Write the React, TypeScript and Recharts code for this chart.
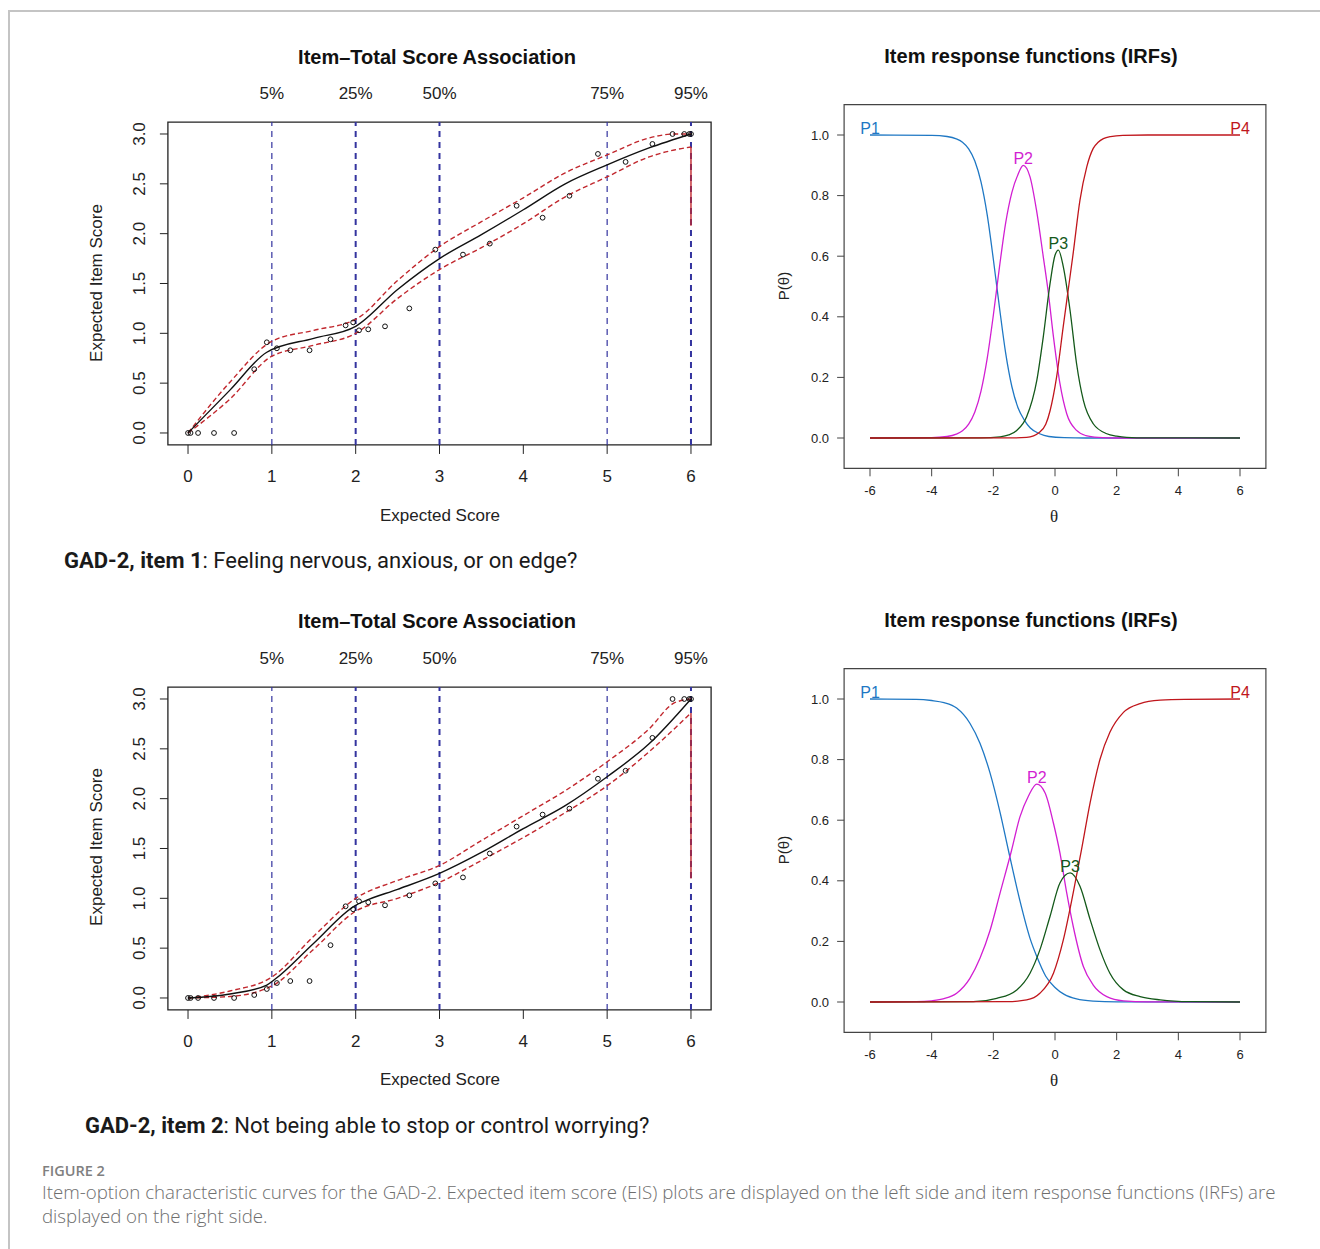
import React from 'react';
import {
  ComposedChart,
  Line,
  Scatter,
  XAxis,
  YAxis,
  ReferenceLine,
  ReferenceArea,
  ReferenceDot,
} from 'recharts';

// ---- Item–total score association (EIS) data ----
// binned expected total scores, same for both items
const obsScore = [0, 0.03, 0.12, 0.31, 0.55, 0.79, 0.94, 1.06, 1.22, 1.45, 1.7, 1.88, 1.97, 2.04, 2.15, 2.35, 2.64, 2.95, 3.28, 3.6, 3.92, 4.23, 4.55, 4.89, 5.22, 5.54, 5.78, 5.92, 5.98, 6.0];
const obsItem1 = [0, 0, 0, 0, 0, 0.64, 0.91, 0.85, 0.83, 0.83, 0.94, 1.08, 1.11, 1.03, 1.04, 1.07, 1.25, 1.84, 1.79, 1.9, 2.28, 2.16, 2.38, 2.8, 2.72, 2.9, 3.0, 3.0, 3.0, 3.0];
const obsItem2 = [0, 0, 0, 0, 0, 0.03, 0.09, 0.15, 0.17, 0.17, 0.53, 0.92, 0.89, 0.97, 0.96, 0.93, 1.03, 1.15, 1.21, 1.45, 1.72, 1.84, 1.9, 2.2, 2.28, 2.61, 3.0, 3.0, 3.0, 3.0];

const fitX1 = [0, 0.5, 0.94, 1.5, 2.0, 2.5, 3.0, 3.5, 4.0, 4.5, 5.0, 5.5, 6.0];
const fitY1 = [0, 0.43, 0.81, 0.95, 1.07, 1.44, 1.75, 1.99, 2.24, 2.5, 2.69, 2.86, 3.0];
const fitX2 = [0, 0.5, 0.94, 1.04, 1.5, 2.0, 2.1, 2.5, 3.0, 3.5, 4.0, 4.5, 5.0, 5.5, 6.0];
const fitY2 = [0, 0.04, 0.13, 0.19, 0.55, 0.93, 0.97, 1.09, 1.25, 1.46, 1.7, 1.93, 2.22, 2.55, 3.0];

const bandX = [0, 0.5, 1.0, 1.5, 2.0, 2.5, 3.0, 3.5, 4.0, 4.5, 5.0, 5.5, 5.8, 6.0];
const upperY1 = [0, 0.51, 0.92, 1.03, 1.14, 1.53, 1.87, 2.12, 2.36, 2.61, 2.79, 2.96, 3.0, 3.0];
const lowerY1 = [0, 0.34, 0.77, 0.88, 1.0, 1.35, 1.64, 1.86, 2.1, 2.37, 2.57, 2.77, 2.84, 2.87];
const upperY2 = [0, 0.07, 0.21, 0.62, 1.0, 1.18, 1.33, 1.58, 1.83, 2.08, 2.37, 2.7, 2.96, 3.0];
const lowerY2 = [0, 0.015, 0.12, 0.49, 0.87, 1.0, 1.16, 1.38, 1.61, 1.86, 2.13, 2.47, 2.7, 2.86];
const lowerTail1 = 2.08;
const lowerTail2 = 1.2;

const scoreTicks = [0, 1, 2, 3, 4, 5, 6];
const itemTicks = [0, 0.5, 1.0, 1.5, 2.0, 2.5, 3.0];
const pctScores = [1, 2, 3, 5, 6];
const pctLabels = ['5%', '25%', '50%', '75%', '95%'];
const pctWidths = [1.2, 2, 2, 1.2, 2];

// ---- Item response functions (IRFs) data ----
const i1p1T = [-6, -4.0, -3.5, -3.2, -3.0, -2.8, -2.6, -2.4, -2.2, -2.0, -1.8, -1.6, -1.4, -1.2, -1.0, -0.8, -0.5, -0.2, 0.3, 1.0, 6];
const i1p1V = [1, 0.999, 0.995, 0.987, 0.976, 0.954, 0.914, 0.845, 0.737, 0.59, 0.43, 0.28, 0.17, 0.1, 0.06, 0.033, 0.014, 0.005, 0.001, 0, 0];
const i1p2T = [-6, -4.0, -3.5, -3.2, -3.0, -2.8, -2.6, -2.4, -2.2, -2.0, -1.8, -1.6, -1.4, -1.2, -1.03, -0.81, -0.6, -0.38, -0.22, -0.05, 0.16, 0.38, 0.7, 1.0, 1.4, 2.0, 6];
const i1p2V = [0, 0.001, 0.005, 0.013, 0.024, 0.046, 0.086, 0.155, 0.262, 0.405, 0.565, 0.71, 0.81, 0.87, 0.9, 0.862, 0.752, 0.598, 0.482, 0.334, 0.18, 0.08, 0.025, 0.008, 0.002, 0, 0];
const i1p3T = [-6, -2.4, -1.78, -1.5, -1.24, -0.92, -0.59, -0.38, -0.16, 0, 0.11, 0.27, 0.49, 0.7, 0.92, 1.24, 1.68, 2.0, 2.32, 3.0, 6];
const i1p3V = [0, 0.0005, 0.004, 0.01, 0.025, 0.07, 0.19, 0.334, 0.51, 0.603, 0.62, 0.565, 0.42, 0.245, 0.124, 0.047, 0.014, 0.006, 0.002, 0.0003, 0];
const i1p4T = [-6, -1.4, -0.92, -0.49, -0.3, -0.16, 0.05, 0.27, 0.43, 0.59, 0.81, 1.03, 1.24, 1.4, 1.57, 1.8, 2.2, 3.0, 6];
const i1p4V = [0, 0.0003, 0.002, 0.02, 0.045, 0.09, 0.2, 0.37, 0.49, 0.61, 0.785, 0.895, 0.956, 0.976, 0.988, 0.995, 0.999, 1, 1];

const i2p1T = [-6, -4.5, -4.0, -3.6, -3.19, -2.76, -2.43, -2.11, -1.78, -1.51, -1.14, -0.81, -0.59, -0.3, 0, 0.3, 0.7, 1.24, 2.0, 6];
const i2p1V = [1, 0.999, 0.995, 0.988, 0.97, 0.92, 0.853, 0.757, 0.625, 0.5, 0.335, 0.21, 0.15, 0.085, 0.048, 0.025, 0.01, 0.003, 0.0005, 0];
const i2p2T = [-6, -4.5, -4.0, -3.6, -3.19, -2.76, -2.43, -2.11, -1.78, -1.41, -1.14, -0.86, -0.59, -0.32, -0.05, 0.16, 0.38, 0.59, 0.92, 1.24, 1.68, 2.22, 3.0, 6];
const i2p2V = [0, 0.001, 0.004, 0.011, 0.029, 0.078, 0.145, 0.235, 0.36, 0.5, 0.61, 0.68, 0.719, 0.69, 0.59, 0.492, 0.36, 0.25, 0.117, 0.056, 0.018, 0.004, 0.0005, 0];
const i2p3T = [-6, -2.65, -1.89, -1.24, -0.81, -0.49, -0.16, 0.16, 0.49, 0.81, 1.14, 1.46, 1.78, 2.22, 2.76, 3.41, 4.38, 6];
const i2p3V = [0, 0.001, 0.012, 0.04, 0.095, 0.172, 0.283, 0.393, 0.426, 0.382, 0.272, 0.172, 0.095, 0.04, 0.018, 0.007, 0.001, 0];
const i2p4T = [-6, -1.57, -0.92, -0.49, -0.05, 0.27, 0.59, 0.86, 1.14, 1.46, 1.78, 2.22, 2.76, 3.41, 4.2, 6];
const i2p4V = [0, 0.001, 0.007, 0.029, 0.095, 0.205, 0.36, 0.503, 0.658, 0.801, 0.89, 0.956, 0.985, 0.996, 0.999, 1];

const thetaTicks = [-6, -4, -2, 0, 2, 4, 6];
const probTicks = [0, 0.2, 0.4, 0.6, 0.8, 1.0];
const catNames = ['P1', 'P2', 'P3', 'P4'];
const catColors = ['#1f78c4', '#d21fd2', '#14591a', '#c0161c'];

const SANS = '"Liberation Sans", Arial, Helvetica, sans-serif';

const zip = (xs: number[], ys: number[]) => xs.map((x, i) => ({ x, y: ys[i] }));

const OpenCircle = (props: any) => (
  <circle cx={props.cx} cy={props.cy} r={2.4} fill="none" stroke="#111" strokeWidth={1} />
);

const RotTick = (props: any) => {
  const { x, y, payload } = props;
  return (
    <text
      x={x}
      y={y}
      transform={`rotate(-90 ${x} ${y})`}
      textAnchor="middle"
      dominantBaseline="central"
      fontSize={17}
      fill="#222"
      fontFamily={SANS}
    >
      {Number(payload.value).toFixed(1)}
    </text>
  );
};

type EisProps = {
  top: number;
  obs: number[];
  fitX: number[];
  fitY: number[];
  upper: number[];
  lower: number[];
  tail: number;
};

function EisPanel({ top, obs, fitX, fitY, upper, lower, tail }: EisProps) {
  const lastLower = lower[lower.length - 1];
  const lastX = bandX[bandX.length - 1];
  return (
    <div style={{ position: 'absolute', left: 60, top, width: 680, height: 510 }}>
      <ComposedChart width={680} height={510} margin={{ top: 92.04, right: 28.9, bottom: 45.06, left: 37.9 }}>
        <XAxis
          dataKey="x"
          type="number"
          domain={[-0.24, 6.24]}
          ticks={scoreTicks}
          interval={0}
          allowDataOverflow
          axisLine={false}
          tickSize={9}
          tickMargin={16}
          height={50}
          tickLine={{ stroke: '#222' }}
          tick={{ fontSize: 17, fill: '#222', fontFamily: SANS }}
        />
        <YAxis
          dataKey="y"
          type="number"
          domain={[-0.12, 3.12]}
          ticks={itemTicks}
          interval={0}
          allowDataOverflow
          axisLine={false}
          tickSize={8}
          tickMargin={20}
          width={70}
          tickLine={{ stroke: '#222' }}
          tick={<RotTick />}
        />
        <ReferenceArea x1={-0.24} x2={6.24} y1={-0.12} y2={3.12} fill="none" stroke="#222" strokeWidth={1.3} />
        {pctScores.map((s, i) => (
          <ReferenceLine
            key={s}
            x={s}
            stroke="#34349f"
            strokeWidth={pctWidths[i]}
            strokeDasharray="6 5"
            label={{ value: pctLabels[i], position: 'top', offset: 23, fontSize: 17, fill: '#222', fontFamily: SANS }}
          />
        ))}
        <Line data={zip(bandX, upper)} dataKey="y" type="monotone" stroke="#c1272d" strokeWidth={1.4} strokeDasharray="5 3" dot={false} activeDot={false} isAnimationActive={false} />
        <Line data={zip(bandX, lower)} dataKey="y" type="monotone" stroke="#c1272d" strokeWidth={1.4} strokeDasharray="5 3" dot={false} activeDot={false} isAnimationActive={false} />
        <Line data={[{ x: lastX, y: lastLower }, { x: lastX, y: tail }]} dataKey="y" type="linear" stroke="#c1272d" strokeWidth={1.4} dot={false} activeDot={false} isAnimationActive={false} />
        <Line data={zip(fitX, fitY)} dataKey="y" type="monotone" stroke="#111" strokeWidth={1.4} dot={false} activeDot={false} isAnimationActive={false} />
        <Scatter data={zip(obsScore, obs)} dataKey="y" shape={<OpenCircle />} isAnimationActive={false} />
      </ComposedChart>
    </div>
  );
}

type IrfProps = { top: number; curves: { t: number[]; v: number[] }[] };

function IrfPanel({ top, curves }: IrfProps) {
  return (
    <div style={{ position: 'absolute', left: 760, top, width: 540, height: 480 }}>
      <ComposedChart width={540} height={480} margin={{ top: 34.7, right: 14.1, bottom: 11.7, left: 34.1 }}>
        <XAxis
          dataKey="x"
          type="number"
          domain={[-6.84, 6.84]}
          ticks={thetaTicks}
          interval={0}
          allowDataOverflow
          axisLine={false}
          tickSize={8}
          tickMargin={9}
          height={40}
          tickLine={{ stroke: '#444' }}
          tick={{ fontSize: 13, fill: '#222', fontFamily: SANS }}
        />
        <XAxis
          xAxisId="top"
          orientation="top"
          dataKey="x"
          type="number"
          domain={[-6.84, 6.84]}
          ticks={thetaTicks}
          interval={0}
          allowDataOverflow
          axisLine={false}
          tickSize={8}
          height={30}
          tickLine={{ stroke: '#444' }}
          tick={false}
        />
        <YAxis
          dataKey="y"
          type="number"
          domain={[-0.1, 1.1]}
          ticks={probTicks}
          interval={0}
          allowDataOverflow
          axisLine={false}
          tickSize={7}
          tickMargin={8}
          width={50}
          tickLine={{ stroke: '#444' }}
          tick={{ fontSize: 13, fill: '#222', fontFamily: SANS }}
          tickFormatter={(v: number) => v.toFixed(1)}
        />
        <YAxis
          yAxisId="right"
          orientation="right"
          dataKey="y"
          type="number"
          domain={[-0.1, 1.1]}
          ticks={probTicks}
          interval={0}
          allowDataOverflow
          axisLine={false}
          tickSize={8}
          width={20}
          tickLine={{ stroke: '#444' }}
          tick={false}
        />
        <ReferenceArea x1={-6.84} x2={6.84} y1={-0.1} y2={1.1} fill="none" stroke="#444" strokeWidth={1.2} />
        {curves.map((c, i) => (
          <Line
            key={catNames[i]}
            data={zip(c.t, c.v)}
            dataKey="y"
            type="monotone"
            stroke={catColors[i]}
            strokeWidth={1.3}
            dot={false}
            activeDot={false}
            isAnimationActive={false}
          />
        ))}
        {curves.map((c, i) => {
          // label sits on the curve's maximum (last one for the top category)
          const peak = c.v.lastIndexOf(Math.max(...c.v));
          return (
            <ReferenceDot
              key={`lab-${catNames[i]}`}
              x={c.t[peak]}
              y={c.v[peak]}
              r={1}
              fill="none"
              stroke="none"
              label={{ value: catNames[i], position: 'top', offset: 0, fontSize: 16, fill: catColors[i], fontFamily: SANS }}
            />
          );
        })}
      </ComposedChart>
    </div>
  );
}

const center = (x: number, y: number): React.CSSProperties => ({
  position: 'absolute',
  left: x,
  top: y,
  transform: 'translate(-50%, -50%)',
  whiteSpace: 'nowrap',
});

const leftMid = (x: number, y: number): React.CSSProperties => ({
  position: 'absolute',
  left: x,
  top: y,
  transform: 'translateY(-50%)',
  whiteSpace: 'nowrap',
});

function EisText({ dy }: { dy: number }) {
  return (
    <>
      <div style={{ ...center(437, 57 + dy), fontFamily: SANS, fontWeight: 700, fontSize: 20, color: '#111' }}>
        Item–Total Score Association
      </div>
      <div style={{ ...center(440, 516 + dy), fontFamily: SANS, fontSize: 17, color: '#222' }}>Expected Score</div>
      <div
        style={{
          ...center(97, 283 + dy),
          transform: 'translate(-50%, -50%) rotate(-90deg)',
          fontFamily: SANS,
          fontSize: 17,
          color: '#222',
        }}
      >
        Expected Item Score
      </div>
    </>
  );
}

function IrfText({ dy }: { dy: number }) {
  return (
    <>
      <div style={{ ...center(1031, 56 + dy), fontFamily: SANS, fontWeight: 700, fontSize: 20, color: '#111' }}>
        Item response functions (IRFs)
      </div>
      <div style={{ ...center(1054, 517 + dy), fontFamily: '"Liberation Serif", "Times New Roman", serif', fontSize: 17, color: '#222' }}>
        θ
      </div>
      <div
        style={{
          ...center(783, 286 + dy),
          transform: 'translate(-50%, -50%) rotate(-90deg)',
          fontFamily: SANS,
          fontSize: 15,
          color: '#222',
        }}
      >
        P(θ)
      </div>
    </>
  );
}

export default function App() {
  const item1Curves = [
    { t: i1p1T, v: i1p1V },
    { t: i1p2T, v: i1p2V },
    { t: i1p3T, v: i1p3V },
    { t: i1p4T, v: i1p4V },
  ];
  const item2Curves = [
    { t: i2p1T, v: i2p1V },
    { t: i2p2T, v: i2p2V },
    { t: i2p3T, v: i2p3V },
    { t: i2p4T, v: i2p4V },
  ];
  return (
    <div style={{ position: 'absolute', left: 0, top: 0, width: 1320, height: 1249, background: '#fff', overflow: 'hidden' }}>
      <div
        style={{
          position: 'absolute',
          left: 8,
          top: 10,
          width: 1320,
          height: 1260,
          borderTop: '2px solid #c4c4c4',
          borderLeft: '2px solid #c4c4c4',
        }}
      />
      <EisText dy={0} />
      <EisText dy={564} />
      <IrfText dy={0} />
      <IrfText dy={564} />

      <EisPanel top={30} obs={obsItem1} fitX={fitX1} fitY={fitY1} upper={upperY1} lower={lowerY1} tail={lowerTail1} />
      <EisPanel top={595} obs={obsItem2} fitX={fitX2} fitY={fitY2} upper={upperY2} lower={lowerY2} tail={lowerTail2} />
      <IrfPanel top={40} curves={item1Curves} />
      <IrfPanel top={604} curves={item2Curves} />

      <div style={{ ...leftMid(64, 560), fontFamily: 'Roboto, "Noto Sans", sans-serif', fontSize: 22, color: '#1a1a1a' }}>
        <b>GAD-2, item 1</b>: Feeling nervous, anxious, or on edge?
      </div>
      <div style={{ ...leftMid(85, 1125), fontFamily: 'Roboto, "Noto Sans", sans-serif', fontSize: 22, color: '#1a1a1a' }}>
        <b>GAD-2, item 2</b>: Not being able to stop or control worrying?
      </div>

      <div style={{ ...leftMid(42, 1170), fontFamily: '"Open Sans", sans-serif', fontSize: 14.5, fontWeight: 600, color: '#808080' }}>
        FIGURE 2
      </div>
      <div
        style={{
          position: 'absolute',
          left: 42,
          top: 1180,
          fontFamily: '"Open Sans", sans-serif',
          fontSize: 18.7,
          fontWeight: 300,
          lineHeight: '24px',
          color: '#6e6e6e',
          whiteSpace: 'nowrap',
        }}
      >
        Item-option characteristic curves for the GAD-2. Expected item score (EIS) plots are displayed on the left side and item response functions (IRFs) are
        <br />
        displayed on the right side.
      </div>
    </div>
  );
}
